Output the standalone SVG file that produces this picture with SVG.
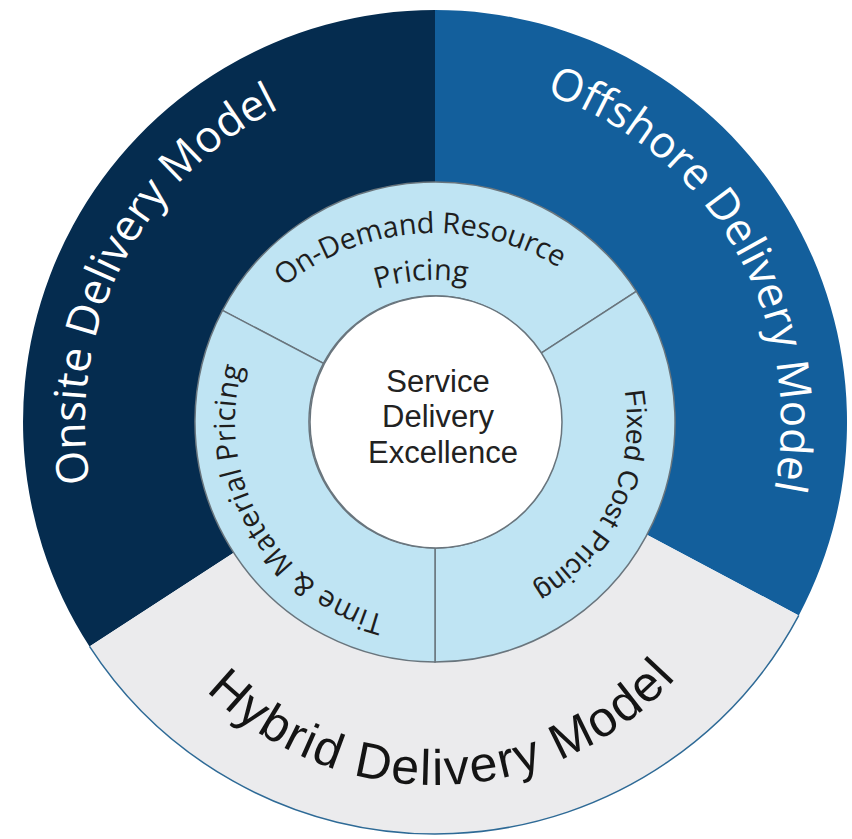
<svg xmlns="http://www.w3.org/2000/svg" width="852" height="839" viewBox="0 0 852 839">
  <defs>
    <style>
      .outer-text { font-family: "Open Sans", "Liberation Sans", sans-serif; fill: #ffffff; font-size: 44px; }
      .hybrid-text { font-family: "Liberation Sans", Arial, sans-serif; fill: #141414; font-size: 50px; }
      .mid-seg { fill: #bfe4f3; stroke: #69757d; stroke-width: 1.5; }
      .mid-text { font-family: "Open Sans", "Liberation Sans", sans-serif; fill: #1e1e1e; font-size: 29px; }
      .mid-text-arial { font-family: "Liberation Sans", Arial, sans-serif; fill: #1e1e1e; font-size: 28px; }
      .center-text { font-family: "Liberation Sans", Arial, sans-serif; fill: #222222; font-size: 31px; text-anchor: middle; }
    </style>
    <path id="p-onsite" d="M142.1,613.7 A350,350 0 0 1 415.5,72.5" fill="none"/>
    <path id="p-offshore" d="M435,76 A346,346 0 0 1 734.6,595" fill="none"/>
    <path id="p-hybrid" d="M157.9,629.8 A325,325 0 0 0 720.6,615.1" fill="none"/>
    <path id="p-ondemand" d="M220.2,367.2 A239,239 0 0 1 633.1,338.4" fill="none"/>
    <path id="p-pricing" d="M262.4,387.8 A192,192 0 0 1 594.2,364.6" fill="none"/>
    <path id="p-fixed" d="M592.3,311.9 A192,192 0 0 1 451.7,613.3" fill="none"/>
    <path id="p-time" d="M434.1,622.0 A200,200 0 0 1 262.2,321.2" fill="none"/>
  </defs>

  <rect width="852" height="839" fill="#ffffff"/>

  <g id="onsite">
    <path d="M89.5,646.4 A412,412 0 0 1 435,10 L435,182 A240,240 0 0 0 233.7,552.7 Z" fill="#052c4f"/>
    <text class="outer-text"><textPath href="#p-onsite" startOffset="50%" text-anchor="middle" textLength="450" lengthAdjust="spacing">Onsite Delivery Model</textPath></text>
  </g>

  <g id="offshore">
    <path d="M435,10 A412,412 0 0 1 798.8,615.4 L646.9,534.7 A240,240 0 0 0 435,182 Z" fill="#135f9c"/>
    <text class="outer-text"><textPath href="#p-offshore" startOffset="50%" text-anchor="middle" textLength="499" lengthAdjust="spacing">Offshore Delivery Model</textPath></text>
  </g>

  <g id="hybrid">
    <path d="M798.8,615.4 A412,412 0 0 1 89.5,646.4 L233.7,552.7 A240,240 0 0 0 646.9,534.7 Z" fill="#ebebed"/>
    <path d="M798.8,615.4 A412,412 0 0 1 89.5,646.4" fill="none" stroke="#2e6a96" stroke-width="1.5"/>
    <text class="hybrid-text"><textPath href="#p-hybrid" startOffset="50%" text-anchor="middle" textLength="525" lengthAdjust="spacing">Hybrid Delivery Model</textPath></text>
  </g>

  <g id="on-demand">
    <path class="mid-seg" d="M222.5,310.4 A240,240 0 0 1 636.3,291.3 L540.7,353.4 A126,126 0 0 0 323.4,363.4 Z"/>
    <text class="mid-text"><textPath href="#p-ondemand" startOffset="50%" text-anchor="middle" textLength="294" lengthAdjust="spacing">On-Demand Resource</textPath></text>
    <text class="mid-text"><textPath href="#p-pricing" startOffset="50%" text-anchor="middle">Pricing</textPath></text>
  </g>

  <g id="fixed-cost">
    <path class="mid-seg" d="M636.3,291.3 A240,240 0 0 1 435,662 L435,548 A126,126 0 0 0 540.7,353.4 Z"/>
    <text class="mid-text-arial"><textPath href="#p-fixed" startOffset="50%" text-anchor="middle" textLength="230" lengthAdjust="spacing">Fixed Cost Pricing</textPath></text>
  </g>

  <g id="time-material">
    <path class="mid-seg" d="M435,662 A240,240 0 0 1 222.5,310.4 L323.4,363.4 A126,126 0 0 0 435,548 Z"/>
    <text class="mid-text"><textPath href="#p-time" startOffset="50%" text-anchor="middle" textLength="319" lengthAdjust="spacing">Time &amp; Material Pricing</textPath></text>
  </g>

  <g id="center">
    <circle cx="436" cy="422" r="126" fill="#ffffff" stroke="#69757d" stroke-width="1.5"/>
    <text class="center-text" x="438" y="392">Service</text>
    <text class="center-text" x="438" y="427">Delivery</text>
    <text class="center-text" x="443" y="463">Excellence</text>
  </g>

  <g id="connectors"></g>
</svg>
